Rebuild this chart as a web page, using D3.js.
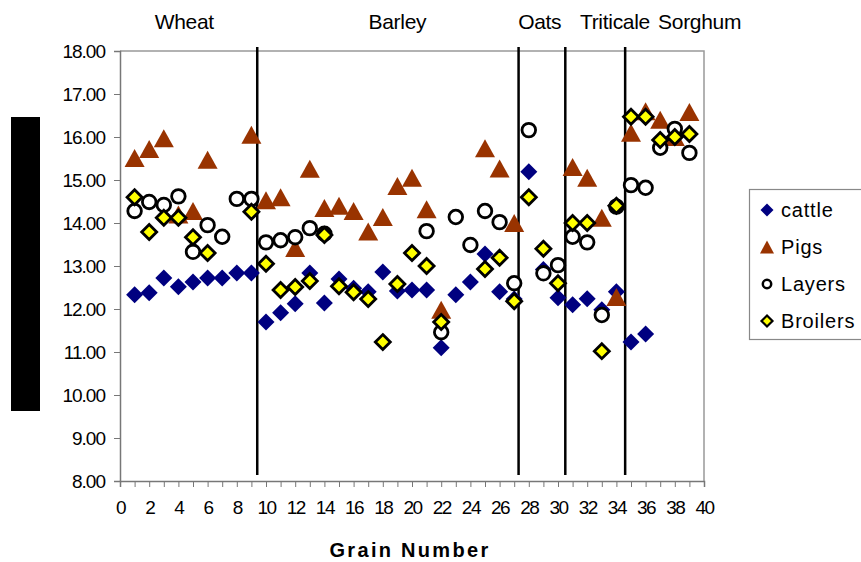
<!DOCTYPE html>
<html>
<head>
<meta charset="utf-8">
<script src="https://cdn.jsdelivr.net/npm/d3@7"></script>
<style>
  body { margin: 0; background: #fff; }
  svg { display: block; font-family: "Liberation Sans", Arial, sans-serif; }
</style>
</head>
<body>
<svg width="861" height="562"></svg>
<script>
// grain numbers 1..39 (null = no point)
const grains = d3.range(1, 40);
const cattle = [12.33, 12.38, 12.72, 12.52, 12.63, 12.72, 12.72, 12.84, 12.84,
  11.70, 11.91, 12.12, 12.84, 12.14, 12.70, 12.48, 12.40, 12.86, 12.42, 12.44,
  12.44, 11.10, 12.33, 12.63, 13.28, 12.40, 12.23, 15.19, 12.92, 12.26,
  12.10, 12.24, 11.98, 12.40, 11.23, 11.42, null, null, null];
const pigs = [15.51, 15.72, 15.97, 14.20, 14.28, 15.47, null, null, 16.05,
  14.53, 14.60, 13.42, 15.26, 14.35, 14.40, 14.28, 13.80, 14.14, 14.86, 15.05,
  14.32, 11.98, null, null, 15.74, 15.27, 14.00, null, null, null,
  15.30, 15.05, 14.12, 12.28, 16.10, 16.60, 16.40, 16.00, 16.58];
const layers = [14.28, 14.49, 14.42, 14.62, 13.33, 13.95, 13.68, 14.56, 14.56,
  13.55, 13.60, 13.67, 13.88, 13.75, null, null, null, null, null, null,
  13.81, 11.46, 14.14, 13.49, 14.28, 14.02, 12.60, 16.16, 12.83, 13.02,
  13.68, 13.55, 11.86, 14.38, 14.88, 14.82, 15.75, 16.19, 15.63];
const broilers = [14.60, 13.79, 14.12, 14.12, 13.67, 13.30, null, null, 14.26,
  13.05, 12.44, 12.51, 12.65, 13.72, 12.53, 12.39, 12.23, 11.23, 12.58, 13.30,
  13.00, 11.70, null, null, 12.93, 13.19, 12.18, 14.60, 13.40, 12.60,
  14.00, 14.00, 11.02, 14.40, 16.47, 16.47, 15.93, 16.00, 16.07];

const seriesNames = ['cattle', 'Pigs', 'Layers', 'Broilers'];
const grainTypes = ['Wheat', 'Barley', 'Oats', 'Triticale', 'Sorghum'];
const grainTypeCentres = [4.4, 19.0, 28.75, 33.9, 39.7];
const dividers = [9.4, 27.3, 30.5, 34.6];
const yTicks = d3.range(8, 19, 1);
const xLabelTicks = d3.range(0, 41, 2);

const svg = d3.select('svg');
const plot = { l: 120, r: 704, t: 51, b: 481 };

const xScale = d3.scaleLinear().domain([0, 40]).range([plot.l, plot.r]);
const yScale = d3.scaleLinear().domain([8, 18]).range([plot.b, plot.t]);

// frame (top and right)
svg.append('path')
  .attr('d', `M${plot.l},${plot.t}H${plot.r}V${plot.b}`)
  .attr('fill', 'none')
  .attr('stroke', '#999')
  .attr('stroke-width', 1.5);

// y axis
const yAxis = d3.axisLeft(yScale)
  .tickValues(yTicks)
  .tickSize(6)
  .tickPadding(9)
  .tickFormat(d3.format('.2f'));
const gy = svg.append('g')
  .attr('transform', `translate(${plot.l},0)`)
  .call(yAxis);
gy.select('.domain').attr('stroke', '#777').attr('stroke-width', 1.5);
gy.selectAll('.tick line').attr('stroke', '#777');
gy.selectAll('text')
  .attr('font-size', 19)
  .attr('letter-spacing', -1)
  .attr('fill', '#000')
  .attr('font-family', '"Liberation Sans", Arial, sans-serif');

// x axis: minor ticks every grain, labels every 2
const xAxis = d3.axisBottom(xScale)
  .tickValues(d3.range(0, 41, 1))
  .tickSize(6)
  .tickPadding(14)
  .tickFormat(d => xLabelTicks.includes(d) ? d : '');
const gx = svg.append('g')
  .attr('transform', `translate(0,${plot.b})`)
  .call(xAxis);
gx.select('.domain').attr('stroke', '#777').attr('stroke-width', 1.5);
gx.selectAll('.tick line').attr('stroke', '#777');
gx.selectAll('text')
  .attr('font-size', 19)
  .attr('letter-spacing', -1.5)
  .attr('fill', '#000')
  .attr('font-family', '"Liberation Sans", Arial, sans-serif');

// grain-type dividers
svg.selectAll('.divider')
  .data(dividers)
  .enter()
  .append('line')
  .attr('class', 'divider')
  .attr('x1', d => xScale(d))
  .attr('x2', d => xScale(d))
  .attr('y1', plot.t - 4)
  .attr('y2', plot.b - 6)
  .attr('stroke', '#000')
  .attr('stroke-width', 2.5);

// grain-type labels
svg.selectAll('.type-label')
  .data(grainTypes)
  .enter()
  .append('text')
  .attr('class', 'type-label')
  .attr('x', (d, i) => xScale(grainTypeCentres[i]))
  .attr('y', 29)
  .attr('text-anchor', 'middle')
  .attr('font-size', 21)
  .attr('letter-spacing', -0.3)
  .text(d => d);

// y title (blacked-out block in the reference)
svg.append('rect')
  .attr('x', 11)
  .attr('y', 117)
  .attr('width', 29)
  .attr('height', 294)
  .attr('fill', '#000');

// x title
svg.append('text')
  .attr('x', 410)
  .attr('y', 557)
  .attr('text-anchor', 'middle')
  .attr('font-size', 20)
  .attr('font-weight', 'bold')
  .attr('letter-spacing', 2.3)
  .text('Grain Number');

// marker shapes
const diamond = r => `M0,${-r}L${r},0L0,${r}L${-r},0Z`;
const triangle = (w, h) => `M0,${-h / 2}L${w / 2},${h / 2}L${-w / 2},${h / 2}Z`;

const styles = {
  cattle: { d: diamond(8.5), fill: '#000080', stroke: 'none', sw: 0,
            ld: diamond(6.5) },
  Pigs: { d: triangle(20, 18), fill: '#993300', stroke: 'none', sw: 0,
          ld: triangle(14, 13) },
  Layers: { circle: 6.8, fill: '#fff', stroke: '#000', sw: 2.8,
            lcircle: 4.2 },
  Broilers: { d: diamond(7.5), fill: '#ffff00', stroke: '#000', sw: 2.8,
              ld: diamond(5.5) }
};

const seriesData = [cattle, pigs, layers, broilers];

seriesNames.forEach(function (name, si) {
  const st = styles[name];
  const pts = grains.map((g, i) => ({ x: g, v: seriesData[si][i] }))
    .filter(p => p.v != null);
  const g = svg.append('g').attr('class', 'series-' + name);
  if (st.circle) {
    g.selectAll('circle')
      .data(pts)
      .enter()
      .append('circle')
      .attr('cx', d => xScale(d.x))
      .attr('cy', d => yScale(d.v))
      .attr('r', st.circle)
      .attr('fill', st.fill)
      .attr('stroke', st.stroke)
      .attr('stroke-width', st.sw);
  } else {
    g.selectAll('path')
      .data(pts)
      .enter()
      .append('path')
      .attr('d', st.d)
      .attr('transform', d => `translate(${xScale(d.x)},${yScale(d.v)})`)
      .attr('fill', st.fill)
      .attr('stroke', st.stroke)
      .attr('stroke-width', st.sw)
      .attr('stroke-linejoin', 'miter');
  }
});

// legend
const legend = svg.append('g').attr('transform', 'translate(749,189)');
legend.append('rect')
  .attr('x', 0.5)
  .attr('y', 0.5)
  .attr('width', 120)
  .attr('height', 150)
  .attr('fill', '#fff')
  .attr('stroke', '#888')
  .attr('stroke-width', 1.2);

const items = legend.selectAll('.item')
  .data(seriesNames)
  .enter()
  .append('g')
  .attr('class', 'item')
  .attr('transform', (d, i) => `translate(18,${21 + i * 37})`);

items.each(function (name) {
  const st = styles[name];
  const g = d3.select(this);
  if (st.lcircle) {
    g.append('circle')
      .attr('r', st.lcircle)
      .attr('fill', st.fill)
      .attr('stroke', st.stroke)
      .attr('stroke-width', 2.5);
  } else {
    g.append('path')
      .attr('d', st.ld)
      .attr('fill', st.fill)
      .attr('stroke', st.stroke)
      .attr('stroke-width', st.sw ? 2.2 : 0);
  }
  g.append('text')
    .attr('x', 14)
    .attr('y', 7)
    .attr('font-size', 20)
    .attr('letter-spacing', 0.8)
    .text(name);
});
</script>
</body>
</html>
